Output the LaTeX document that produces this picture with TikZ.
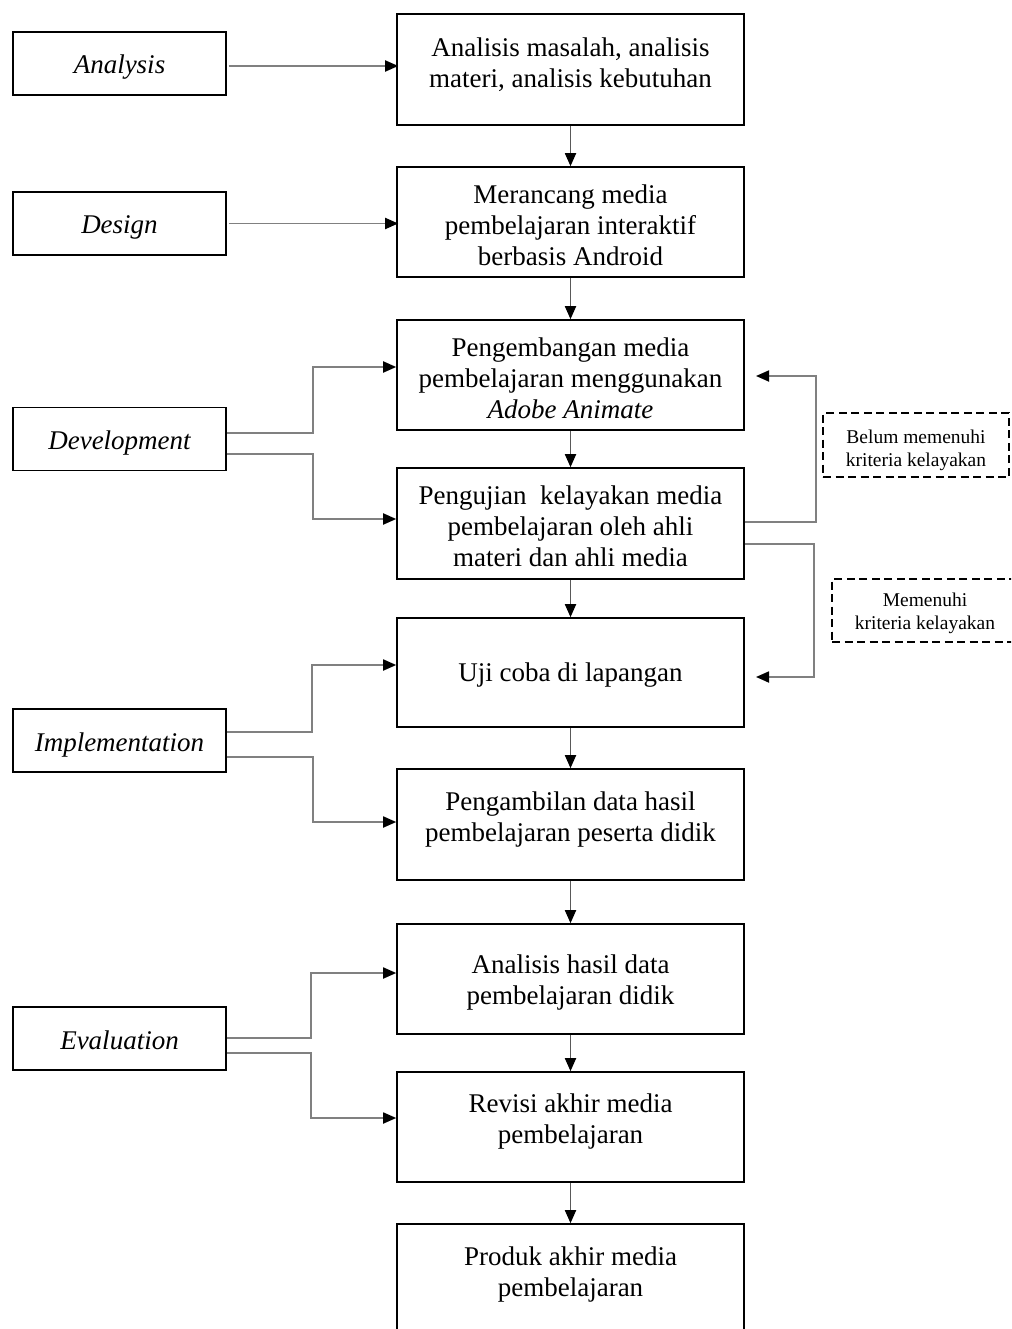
\documentclass[tikz,border=0pt]{standalone}
\usepackage{fontspec}
\setmainfont{Liberation Serif}
\usetikzlibrary{arrows.meta}
\tikzset{
  mainbox/.style={draw=black, line width=1.6pt, minimum width=347pt, inner sep=0pt},
  maintext/.style={align=center, inner sep=0pt, font=\fontsize{27}{31}\selectfont},
  sidebox/.style={draw=black, line width=1.6pt, minimum width=213pt, minimum height=63pt, inner sep=0pt,
    text height=24pt, text depth=3pt, font=\fontsize{27}{31}\selectfont\itshape},
  notebox/.style={draw=black, line width=1.2pt, dash pattern=on 8pt off 4.5pt, inner sep=0pt},
  notetext/.style={align=center, inner sep=0pt, font=\fontsize{19.5}{23}\selectfont},
  conn/.style={draw=black!50, line width=1.8pt, -{Triangle[length=13pt,width=11pt,color=black,fill=black]}},
  vconn/.style={draw=black!65, line width=1.8pt, -{Triangle[length=13pt,width=11pt,color=black,fill=black]}},
}
\begin{document}
\begin{tikzpicture}[x=1pt,y=-1pt]
\useasboundingbox (0,0) rectangle (1011,1329);
\clip (0,0) rectangle (1011,1329);
% main boxes
\node[mainbox, minimum height=111pt] (b1) at (570.5,69.5) {};
\node[mainbox, minimum height=110pt] (b2) at (570.5,222) {};
\node[mainbox, minimum height=110pt] (b3) at (570.5,375) {};
\node[mainbox, minimum height=111pt] (b4) at (570.5,523.5) {};
\node[mainbox, minimum height=109pt] (b5) at (570.5,672.5) {};
\node[mainbox, minimum height=111pt] (b6) at (570.5,824.5) {};
\node[mainbox, minimum height=110pt] (b7) at (570.5,979) {};
\node[mainbox, minimum height=110pt] (b8) at (570.5,1127) {};
\node[mainbox, minimum height=112pt] (b9) at (570.5,1280) {};
% main texts
\node[maintext] (t1) at (570.5,65) {Analisis masalah, analisis\\materi, analisis kebutuhan};
\node[maintext] (t2) at (570.5,225) {Merancang media\\pembelajaran interaktif\\berbasis Android};
\node[maintext] (t3) at (570.5,378) {Pengembangan media\\pembelajaran menggunakan\\\textit{Adobe Animate}};
\node[maintext] (t4) at (570.5,526) {Pengujian\ \ kelayakan media\\pembelajaran oleh ahli\\materi dan ahli media};
\node[maintext] (t5) at (570.5,675.5) {Uji coba di lapangan};
\node[maintext] (t6) at (570.5,819.5) {Pengambilan data hasil\\pembelajaran peserta didik};
\node[maintext] (t7) at (570.5,982) {Analisis hasil data\\pembelajaran didik};
\node[maintext] (t8) at (570.5,1121) {Revisi akhir media\\pembelajaran};
\node[maintext] (t9) at (570.5,1274) {Produk akhir media\\pembelajaran};
% side boxes
\node[sidebox] (an) at (119.5,63.5) {Analysis};
\node[sidebox] (de) at (119.5,223.5) {Design};
\node[sidebox] (dv) at (119.5,439) {Development};
\node[sidebox] (im) at (119.5,740.5) {Implementation};
\node[sidebox] (ev) at (119.5,1038.5) {Evaluation};
% note boxes
\node[notebox, minimum width=186pt, minimum height=64pt] (n1) at (916,445) {};
\node[notetext] (n1t) at (916,450) {Belum memenuhi\\kriteria kelayakan};
\node[notebox, minimum width=186pt, minimum height=63pt] (n2) at (925,610.5) {};
\node[notetext] (n2t) at (925,613) {Memenuhi\\kriteria kelayakan};
% vertical arrows
\draw[vconn] (b1.south) -- (b2.north);
\draw[vconn] (b2.south) -- (b3.north);
\draw[vconn] (b3.south) -- (b4.north);
\draw[vconn] (b4.south) -- (b5.north);
\draw[vconn] (b5.south) -- (b6.north);
\draw[vconn] (b6.south) -- (b7.north);
\draw[vconn] (b7.south) -- (b8.north);
\draw[vconn] (b8.south) -- (b9.north);
% side connectors
\draw[conn] ([xshift=2pt,yshift=-2.5pt]an.east) -- ([xshift=2pt,yshift=-2.5pt]an.east -| b1.west);
\draw[conn] ([xshift=2pt]de.east) -- ([xshift=2pt]de.east -| b2.west);
\draw[conn] ([yshift=6pt]dv.east) -- ++(86,0) |- ([yshift=8pt]b3.west);
\draw[conn] ([yshift=-15pt]dv.east) -- ++(86,0) |- ([yshift=4.5pt]b4.west);
\draw[conn] ([yshift=8.5pt]im.east) -- ++(85,0) |- ([yshift=7.5pt]b5.west);
\draw[conn] ([yshift=-16.5pt]im.east) -- ++(86,0) |- ([yshift=2.5pt]b6.west);
\draw[conn] ([yshift=0.5pt]ev.east) -- ++(84,0) |- ([yshift=6pt]b7.west);
\draw[conn] ([yshift=-14.5pt]ev.east) -- ++(84,0) |- ([yshift=9pt]b8.west);
% feedback connectors
\coordinate (r1) at (756,376);
\coordinate (r2) at (756,677);
\draw[conn] ([yshift=1.5pt]b4.east) -- ++(71,0) |- (r1);
\draw[conn] ([yshift=-20.5pt]b4.east) -- ++(69,0) |- (r2);
\end{tikzpicture}
\end{document}
